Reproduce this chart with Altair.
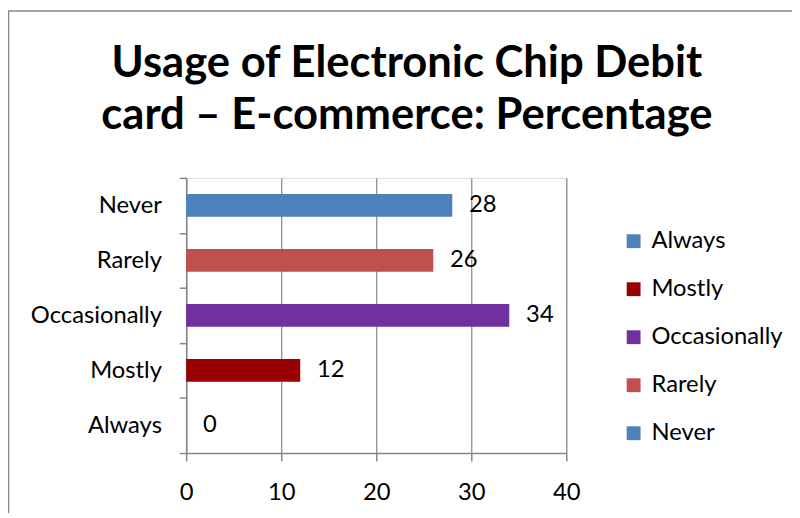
import altair as alt
import pandas as pd

categories = ["Never", "Rarely", "Occasionally", "Mostly", "Always"]
values = [28, 26, 34, 12, 0]
legend_order = ["Always", "Mostly", "Occasionally", "Rarely", "Never"]
legend_colors = ["#4F81BD", "#990000", "#7030A0", "#C0504D", "#4F81BD"]
x_ticks = [0, 10, 20, 30, 40]
title_lines = ["Usage of Electronic Chip Debit", "card \u2013 E-commerce: Percentage"]

df = pd.DataFrame({"Response": categories, "Percentage": values})

FONT = "Lato"
GRAY = "#868686"
FS = 24

y_enc = alt.Y(
    "Response:N",
    sort=categories,
    scale=alt.Scale(paddingInner=0, paddingOuter=0),
    axis=alt.Axis(
        title=None, tickBand="extent", domainColor=GRAY, tickColor=GRAY,
        tickSize=7, labelFontSize=FS, labelFont=FONT, labelColor="black",
        labelPadding=18, grid=False, domainWidth=1.5, tickWidth=1.5,
    ),
)
x_enc = alt.X(
    "Percentage:Q",
    scale=alt.Scale(domain=[0, 40]),
    axis=alt.Axis(
        title=None, values=x_ticks, domainColor=GRAY, tickColor=GRAY,
        tickSize=8, labelFontSize=FS, labelFont=FONT, labelColor="black",
        labelPadding=20, labelFlush=False, grid=True, gridColor=GRAY,
        gridWidth=1.2, domainWidth=1.5, tickWidth=1.5,
    ),
)

bars = alt.Chart(df).mark_bar(height=alt.RelativeBandSize(0.414)).encode(
    y=y_enc,
    x=x_enc,
    color=alt.Color(
        "Response:N",
        scale=alt.Scale(domain=legend_order, range=legend_colors),
        legend=alt.Legend(
            title=None, orient="none", legendX=440, legendY=52,
            symbolType="square", symbolSize=196, symbolStrokeWidth=0,
            labelFontSize=FS, labelFont=FONT, labelColor="black",
            rowPadding=24.5, labelOffset=6,
        ),
    ),
)

labels = alt.Chart(df).mark_text(
    align="left", baseline="middle", dx=17, fontSize=FS, font=FONT, color="black"
).encode(
    y=alt.Y("Response:N", sort=categories),
    x=alt.X("Percentage:Q"),
    text=alt.Text("Percentage:Q"),
)

frame_df = pd.DataFrame({"k": [0]})


def title_line(text, y):
    return alt.Chart(frame_df).mark_text(
        align="center", baseline="alphabetic", fontSize=44, font=FONT,
        fontWeight="bold", color="black"
    ).encode(x=alt.value(223), y=alt.value(y), text=alt.value(text))


title1 = title_line(title_lines[0], -102)
title2 = title_line(title_lines[1], -49)

frame_left = alt.Chart(frame_df).mark_rule(color=GRAY, strokeWidth=1.5).encode(
    x=alt.value(-179.5), y=alt.value(-169), y2=alt.value(400)
)
frame_top = alt.Chart(frame_df).mark_rule(color=GRAY, strokeWidth=1.5).encode(
    x=alt.value(-179.5), x2=alt.value(700), y=alt.value(-168.5)
)

chart = alt.layer(bars, labels, title1, title2, frame_left, frame_top).properties(
    width=384,
    height=278,
    autosize=alt.AutoSizeParams(type="none"),
    padding={"left": 180, "top": 169, "right": 228, "bottom": 58},
).configure_view(stroke=None).configure(background="white")

chart.save("out.html", embed_options={"renderer": "svg", "actions": False})
